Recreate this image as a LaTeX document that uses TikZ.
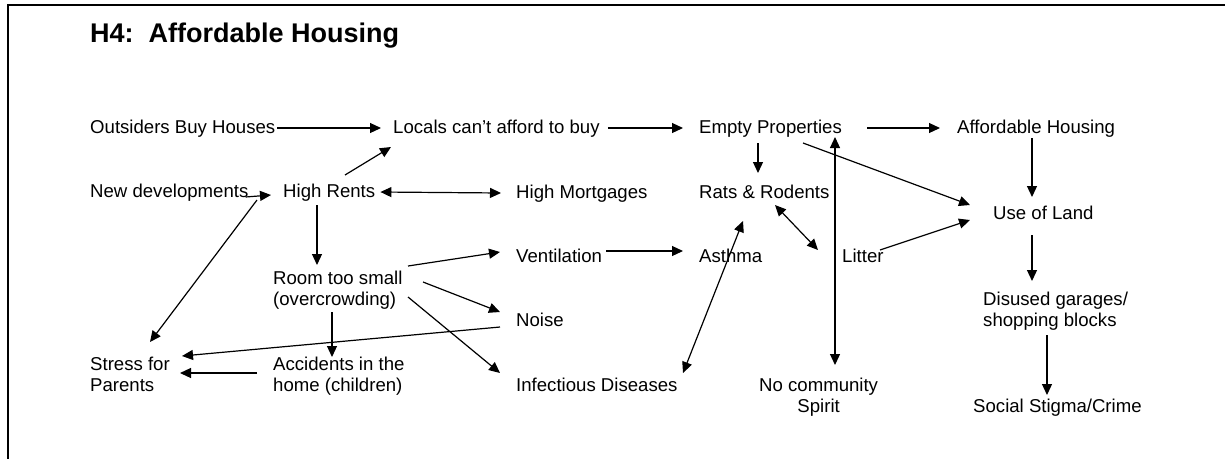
\documentclass[tikz,border=0pt]{standalone}
\usepackage{fontspec}
\setmainfont{Liberation Sans}
\usetikzlibrary{arrows.meta}
\tikzstyle{sheet} = [x = 1pt, y = -1pt]
\tikzstyle{frameLine} = [color=black, line width=1.5pt]
\tikzstyle{causeText} = [inner sep=0, anchor=base west, text height=13.5pt, text depth=3.5pt, font=\fontsize{18.6}{21}\selectfont]
\tikzstyle{causeBlock} = [inner sep=0, anchor=base west, align=left, font=\fontsize{18.6}{21}\selectfont]
\tikzstyle{titleText} = [inner sep=0, anchor=base west, font=\fontsize{27}{30}\selectfont\bfseries]
\tikzstyle{causeArrow} = [line width=1.2pt, -{Triangle[length=11pt, width=10pt]}]
\tikzstyle{bothArrow} = [line width=1.2pt, {Triangle[length=11pt, width=10pt]}-{Triangle[length=11pt, width=10pt]}]
\newcommand{\bw}[3]{([shift={(#2,#3)}]#1.base west)}

\begin{document}
\begin{tikzpicture}[sheet]
      \useasboundingbox (0,0) rectangle (1225,459);
      \draw [frameLine] (1225,5) -- (8,5) -- (8,459);

      \node [titleText] (title) at (90,42) {H4:\ \ Affordable Housing};

      % top row
      \node [causeText] (outsiders) at (90,133) {Outsiders Buy Houses};
      \node [causeText] (locals) at (393,133) {Locals can’t afford to buy};
      \node [causeText] (empty) at (699,133) {Empty Properties};
      \node [causeText] (affordable) at (957,133) {Affordable Housing};

      \node [causeText] (newdev) at (90,197) {New developments};
      \node [causeText] (rents) at (283,197) {High Rents};
      \node [causeText] (mortgages) at (516,198) {High Mortgages};
      \node [causeText] (rats) at (699,198) {Rats \& Rodents};
      \node [causeText] (land) at (993,219) {Use of Land};

      % two-line blocks sit on their last baseline
      \node [causeText] (vent) at (516,262) {Ventilation};
      \node [causeText] (asthma) at (699,262) {Asthma};
      \node [causeText] (litter) at (842,262) {Litter};
      \node [causeBlock] (room) at (273,305) {Room too small\\(overcrowding)};
      \node [causeBlock] (disused) at (983,326) {Disused garages/\\shopping blocks};
      \node [causeText] (noise) at (516,326) {Noise};

      % bottom row
      \node [causeBlock] (stress) at (90,391) {Stress for\\Parents};
      \node [causeBlock] (accidents) at (273,391) {Accidents in the\\home (children)};
      \node [causeText] (infectious) at (516,391) {Infectious Diseases};
      \node [causeBlock, align=center] (community) at (759,412) {No community\\Spirit};
      \node [causeText] (stigma) at (973,412) {Social Stigma/Crime};

      \draw [causeArrow] ([xshift=2]outsiders.east) -- ([xshift=-12]locals.west);
      \draw [causeArrow] ([xshift=8]locals.east) -- ([xshift=-16]empty.west);
      \draw [causeArrow] ([xshift=25]empty.east) -- ([xshift=-17]affordable.west);
      \draw [causeArrow] \bw{rents}{62}{-22} -- \bw{locals}{-2}{14};
      \draw [causeArrow] ([xshift=-3]newdev.base east) -- \bw{rents}{-12}{-2};
      \draw [bothArrow] ([xshift=5]rents.east) -- ([xshift=-15]mortgages.west);
      \draw [causeArrow] \bw{empty}{59}{10} -- \bw{rats}{59}{-25};
      \draw [causeArrow] \bw{empty}{104}{10} -- \bw{land}{-23}{-14};
      \draw [bothArrow] \bw{community}{76}{-47} -- \bw{empty}{136}{4};
      \draw [causeArrow] \bw{affordable}{75}{5} -- \bw{land}{39}{-22};
      \draw [causeArrow] \bw{litter}{38}{-12} -- \bw{land}{-23}{1};
      \draw [bothArrow] \bw{rats}{76}{7} -- \bw{litter}{-24}{-12};
      \draw [causeArrow] \bw{rents}{34}{8} -- \bw{room}{44}{-40};
      \draw [causeArrow] \bw{rents}{-26}{3} -- \bw{stress}{60}{-49};
      \draw [causeArrow] \bw{room}{135}{-39} -- \bw{vent}{-16}{-10};
      \draw [causeArrow] \bw{room}{150}{-23} -- \bw{noise}{-16}{-14};
      \draw [causeArrow] \bw{room}{135}{-8} -- \bw{infectious}{-16}{-18};
      \draw [causeArrow] \bw{noise}{-16}{1} -- \bw{stress}{92}{-35};
      \draw [causeArrow] \bw{room}{59}{7} -- \bw{accidents}{59}{-34};
      \draw [causeArrow] \bw{accidents}{-16}{-18} -- \bw{stress}{90}{-18};
      \draw [causeArrow] \bw{vent}{90}{-11} -- \bw{asthma}{-16}{-11};
      \draw [bothArrow] \bw{infectious}{167}{-18} -- \bw{rats}{44}{23};
      \draw [causeArrow] \bw{land}{39}{16} -- \bw{disused}{49}{-45};
      \draw [causeArrow] \bw{disused}{64}{9} -- \bw{stigma}{74}{-17};
\end{tikzpicture}
\end{document}
